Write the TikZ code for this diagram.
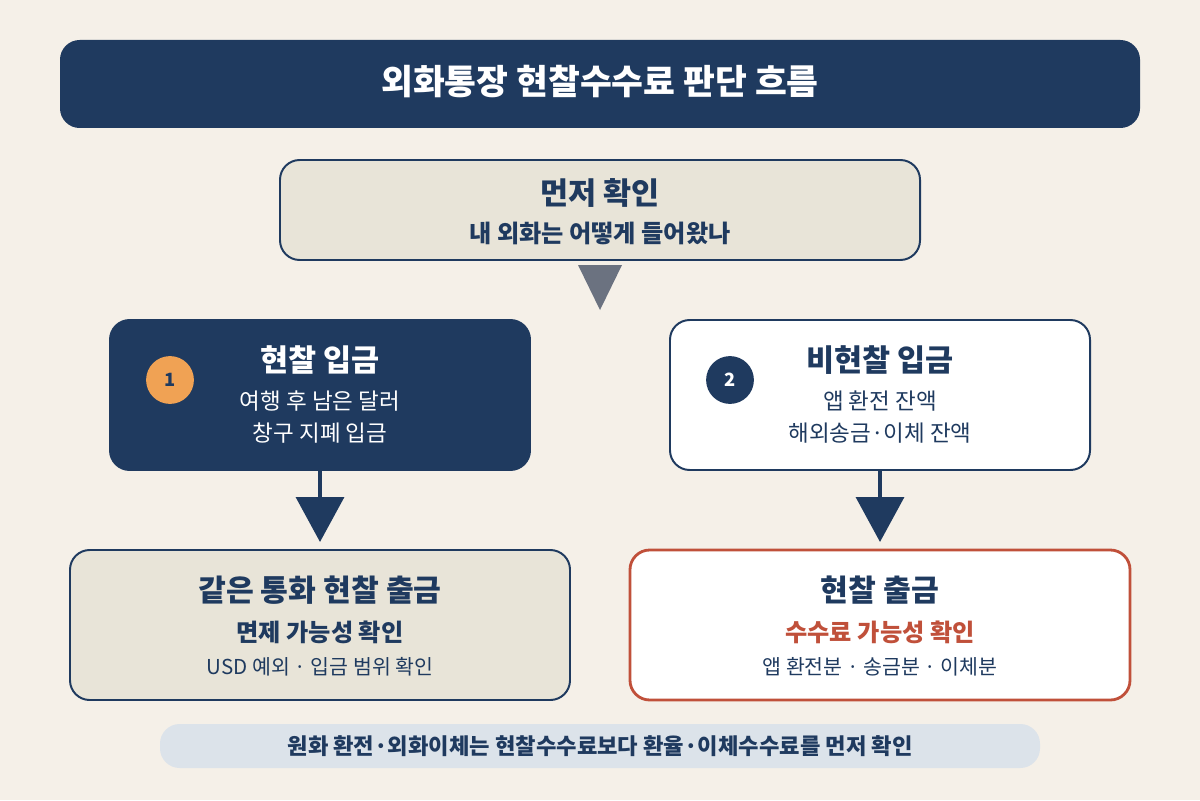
\documentclass[tikz,border=0pt]{standalone}
\usepackage{fontspec}
\setmainfont{Noto Sans CJK KR}
\usetikzlibrary{positioning,arrows.meta}
\definecolor{navy}{HTML}{1F3A5F}
\definecolor{paper}{HTML}{F5F0E8}
\definecolor{sand}{HTML}{E8E4D8}
\definecolor{alert}{HTML}{C0503A}
\definecolor{mist}{HTML}{DCE3EA}
\definecolor{ash}{HTML}{6B7280}
\definecolor{peach}{HTML}{F0A254}
\tikzset{
  box/.style={draw=navy, line width=1.4pt, rounded corners=14pt, minimum width=#1},
  big/.style={font=\bfseries\fontsize{21.7}{26}\selectfont},
  mid/.style={font=\bfseries\fontsize{17.2}{20}\selectfont},
  line/.style={font=\fontsize{16}{19}\selectfont},
  small/.style={font=\fontsize{14.6}{17}\selectfont},
  badge/.style={circle, minimum size=34pt, inner sep=0pt, font=\bfseries\fontsize{13}{15}\selectfont},
  flow/.style={navy, line width=3pt, -{Triangle[width=34pt,length=32pt]}}
}
\begin{document}
\begin{tikzpicture}[x=0.025cm,y=-0.025cm]
  \fill[paper] (0,0) rectangle (1200,800);
  \useasboundingbox (0,0) rectangle (1200,800);
  % title
  \fill[navy, rounded corners=14pt] (60,40) rectangle (1140,128);
  \node[white, font=\bfseries\fontsize{24.6}{29}\selectfont] (title) at (600,82) {외화통장 현찰수수료 판단 흐름};
  % first check
  \draw[box=0pt, fill=sand] (280,160) rectangle (920,260);
  \node[big, navy] (ask) at (600,193) {먼저 확인};
  \node[mid, navy] (askSub) at (600,233) {내 외화는 어떻게 들어왔나};
  \fill[ash] (578,265) -- (622,265) -- (600,310) -- cycle;
  % cash deposit
  \draw[box=0pt, fill=navy] (110,320) rectangle (530,470);
  \coordinate (cashTop) at (320,470);
  \node[badge, fill=peach, text=navy] (one) at (170,380) {1};
  \node[big, white] (cash) at (320,360) {현찰 입금};
  \node[line, white] (cashA) at (320,401) {여행 후 남은 달러};
  \node[line, white] (cashB) at (320,433) {창구 지폐 입금};
  % non-cash deposit
  \draw[box=0pt, fill=white] (670,320) rectangle (1090,470);
  \coordinate (nonTop) at (880,470);
  \node[badge, fill=navy, text=white] (two) at (730,380) {2};
  \node[big, navy] (non) at (880,360) {비현찰 입금};
  \node[line, navy] (nonA) at (880,401) {앱 환전 잔액};
  \node[line, navy] (nonB) at (880,433) {해외송금·이체 잔액};
  % outcomes
  \draw[box=0pt, fill=sand] (70,550) rectangle (570,700);
  \coordinate (sameIn) at (320,542);
  \node[navy, font=\bfseries\fontsize{21.5}{25}\selectfont] (same) at (320,590) {같은 통화 현찰 출금};
  \node[mid, navy] (sameA) at (320,632) {면제 가능성 확인};
  \node[small, navy] (sameB) at (320,667) {USD 예외 · 입금 범위 확인};
  \draw[draw=alert, line width=2pt, rounded corners=14pt, fill=white] (630,550) rectangle (1130,700);
  \coordinate (feeIn) at (880,542);
  \node[navy, font=\bfseries\fontsize{21.5}{25}\selectfont] (fee) at (880,590) {현찰 출금};
  \node[mid, alert] (feeA) at (880,632) {수수료 가능성 확인};
  \node[small, navy] (feeB) at (880,667) {앱 환전분 · 송금분 · 이체분};
  \draw[flow] (cashTop) -- (sameIn);
  \draw[flow] (nonTop) -- (feeIn);
  % footer note
  \fill[mist, rounded corners=14pt] (160,724) rectangle (1040,768);
  \node[navy, font=\bfseries\fontsize{15.8}{18}\selectfont] (note) at (600,746) {원화 환전·외화이체는 현찰수수료보다 환율·이체수수료를 먼저 확인};
\end{tikzpicture}
\end{document}
